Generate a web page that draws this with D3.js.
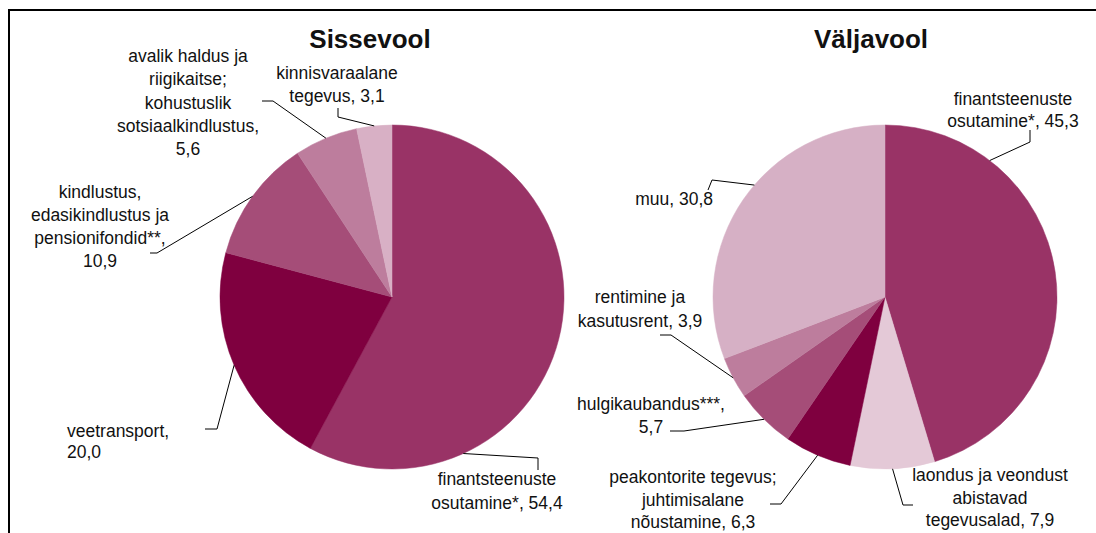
<!DOCTYPE html>
<html>
<head>
<meta charset="utf-8">
<script src="https://cdn.jsdelivr.net/npm/d3@7"></script>
<style>
body{margin:0;background:#fff;}
svg text{font-family:"Liberation Sans",Arial,Helvetica,sans-serif;fill:#111;}
</style>
</head>
<body>
<script>
//inflow (Sissevool) data, share of total
var inCategories = ["finantsteenuste osutamine*", "veetransport", "kindlustus, edasikindlustus ja pensionifondid**", "avalik haldus ja riigikaitse; kohustuslik sotsiaalkindlustus", "kinnisvaraalane tegevus"];
var inValues = [54.4, 20.0, 10.9, 5.6, 3.1];
var inLabelLines = [
    ["finantsteenuste", "osutamine*, {v}"],
    ["veetransport,", "{v}"],
    ["kindlustus,", "edasikindlustus ja", "pensionifondid**,", "{v}"],
    ["avalik haldus ja", "riigikaitse;", "kohustuslik", "sotsiaalkindlustus,", "{v}"],
    ["kinnisvaraalane", "tegevus, {v}"]
];

//outflow (Väljavool) data
var outCategories = ["finantsteenuste osutamine*", "laondus ja veondust abistavad tegevusalad", "peakontorite tegevus; juhtimisalane nõustamine", "hulgikaubandus***", "rentimine ja kasutusrent", "muu"];
var outValues = [45.3, 7.9, 6.3, 5.7, 3.9, 30.8];
var outLabelLines = [
    ["finantsteenuste", "osutamine*, {v}"],
    ["laondus ja veondust", "abistavad", "tegevusalad, {v}"],
    ["peakontorite tegevus;", "juhtimisalane", "nõustamine, {v}"],
    ["hulgikaubandus***,", "{v}"],
    ["rentimine ja", "kasutusrent, {v}"],
    ["muu, {v}"]
];

var titles = ["Sissevool", "Väljavool"];

//colours per slice
var inColors = ["#993366", "#7f003f", "#a54d78", "#bd7d9d", "#d8b0c5"];
var outColors = ["#993366", "#e4c9d7", "#7f003f", "#a54d78", "#bd7d9d", "#d6b0c5"];

//label placement (layout only)
var inLayout = [
    {x: 497, y: 485, anchor: "middle", lh: 24, leader: [[538, 470], [538, 458]], angle: 155.5},
    {x: 67, y: 437, anchor: "start", lh: 21, leader: [[205, 429], [217, 429]]},
    {x: 100, y: 198, anchor: "middle", lh: 23, leader: [[150, 253], [157, 253]]},
    {x: 188, y: 62, anchor: "middle", lh: 23.3, leader: [[262, 101], [273, 101]]},
    {x: 337, y: 79, anchor: "middle", lh: 23, leader: [[338, 108], [338, 117]]}
];
var outLayout = [
    {x: 1013, y: 105, anchor: "middle", lh: 22, leader: [[1030, 130], [1030, 142]], angle: 37.5},
    {x: 990, y: 481, anchor: "middle", lh: 22.5, leader: [[913, 505], [903, 505]]},
    {x: 693, y: 483, anchor: "middle", lh: 22.5, leader: [[770, 504], [781, 504]]},
    {x: 651, y: 410, anchor: "middle", lh: 23, leader: [[670, 431], [684, 431]]},
    {x: 640, y: 303, anchor: "middle", lh: 24, leader: [[660, 335], [671, 335]]},
    {x: 713, y: 205, anchor: "end", lh: 23, leader: [[708, 190], [712, 180]], angle: 310.6}
];

var width = 1096,
    height = 533;

var svg = d3.select("body")
    .append("svg")
    .attr("width", width)
    .attr("height", height);

//frame (top and left edges only are visible)
svg.append("path")
    .attr("d", "M9," + height + "V10H" + width)
    .attr("fill", "none")
    .attr("stroke", "#000")
    .attr("stroke-width", 2);

var fmt = function(v){ return d3.format(".1f")(v).replace(".", ","); };

drawPie(inValues, inColors, inLabelLines, inLayout, [392, 297], 172, titles[0], 370);
drawPie(outValues, outColors, outLabelLines, outLayout, [885, 297], 172, titles[1], 871);

function drawPie(values, colors, labelLines, layout, center, r, title, titleX){

    var pie = d3.pie().sort(null).value(function(d){ return d; });
    var arcs = pie(values);

    var arc = d3.arc().innerRadius(0).outerRadius(r);
    var edge = d3.arc().innerRadius(r).outerRadius(r);

    var g = svg.append("g")
        .attr("transform", "translate(" + center[0] + "," + center[1] + ")");

    g.selectAll(".slice")
        .data(arcs)
        .enter()
        .append("path")
        .attr("class", "slice")
        .attr("d", arc)
        .attr("fill", function(d, i){ return colors[i]; })
        .attr("stroke", function(d, i){ return colors[i]; })
        .attr("stroke-width", 0.5);

    //leader lines, ending on the slice edge
    var line = d3.line();
    arcs.forEach(function(d, i){
        var L = layout[i];
        var p = L.angle != null
            ? d3.pointRadial(L.angle * Math.PI / 180, r)
            : edge.centroid(d);
        var pts = L.leader.concat([[p[0] + center[0], p[1] + center[1]]]);
        svg.append("path")
            .attr("d", line(pts))
            .attr("fill", "none")
            .attr("stroke", "#000")
            .attr("stroke-width", 1);
    });

    //labels
    arcs.forEach(function(d, i){
        var L = layout[i];
        var t = svg.append("text")
            .attr("text-anchor", L.anchor)
            .attr("font-size", 17.5);
        labelLines[i].forEach(function(s, j){
            t.append("tspan")
                .attr("x", L.x)
                .attr("y", L.y + j * L.lh)
                .text(s.replace("{v}", fmt(values[i])));
        });
    });

    svg.append("text")
        .attr("x", titleX)
        .attr("y", 48)
        .attr("text-anchor", "middle")
        .attr("font-size", 26)
        .attr("font-weight", "bold")
        .text(title);
}
</script>
</body>
</html>
